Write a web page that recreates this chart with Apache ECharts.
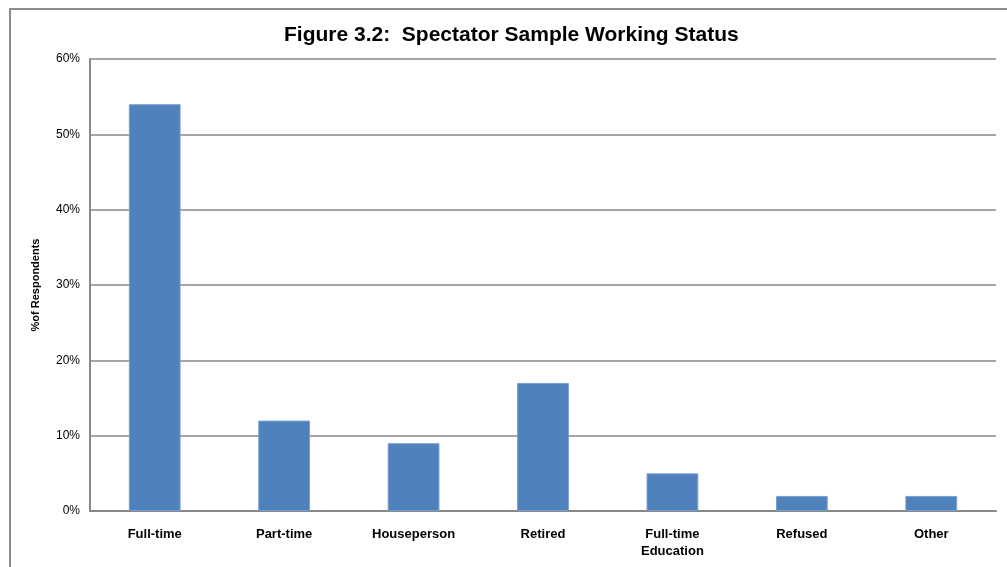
<!DOCTYPE html>
<html>
<head>
<meta charset="utf-8">
<script src="https://cdn.jsdelivr.net/npm/echarts@6/dist/echarts.min.js"></script>
<style>
html,body{margin:0;padding:0;background:#fff;}
#chart{width:1007px;height:567px;}
</style>
</head>
<body>
<div id="chart"></div>
<script>
const titleText = 'Figure 3.2:  Spectator Sample Working Status';
const categories = ['Full-time', 'Part-time', 'Houseperson', 'Retired', 'Full-time\nEducation', 'Refused', 'Other'];
const values = [54, 12, 9, 17, 5, 2, 2];
const yTicks = [0, 10, 20, 30, 40, 50, 60];
const yAxisTitle = '%of Respondents';

const chart = echarts.init(document.getElementById('chart'), null, {renderer: 'canvas'});
chart.setOption({
  animation: false,
  backgroundColor: '#ffffff',
  title: {
    text: titleText,
    left: 279,
    top: 20,
    textStyle: {fontFamily: 'Liberation Sans', fontWeight: 'bold', fontSize: 21, color: '#000', letterSpacing: -0.2}
  },
  graphic: [{
    type: 'rect',
    shape: {x: 10, y: 9, width: 1010, height: 580},
    style: {fill: 'none', stroke: '#8c8c8c', lineWidth: 2},
    silent: true
  }],
  grid: {left: 90, right: 11, top: 59, bottom: 56, containLabel: false},
  xAxis: {
    type: 'category',
    data: categories,
    axisLine: {show: true, lineStyle: {color: '#888', width: 2}},
    axisTick: {show: false},
    axisLabel: {
      interval: 0,
      margin: 15,
      fontFamily: 'Liberation Sans',
      fontWeight: 'bold',
      fontSize: 13,
      color: '#000',
      lineHeight: 17
    }
  },
  yAxis: {
    type: 'value',
    min: yTicks[0],
    max: yTicks[yTicks.length - 1],
    interval: 10,
    name: yAxisTitle,
    nameLocation: 'middle',
    nameGap: 49,
    nameRotate: 90,
    nameTextStyle: {fontFamily: 'Liberation Sans', fontWeight: 'bold', fontSize: 11, color: '#000', letterSpacing: -0.5},
    axisLine: {show: true, lineStyle: {color: '#888', width: 2}},
    axisTick: {show: false},
    splitLine: {show: true, lineStyle: {color: '#888', width: 1.5}},
    axisLabel: {
      margin: 10,
      fontFamily: 'Liberation Sans',
      fontSize: 12,
      color: '#000',
      formatter: v => v + '%'
    }
  },
  series: [{
    type: 'bar',
    data: values,
    barWidth: '40%',
    itemStyle: {color: '#4F81BD', borderColor: '#7a9fd0', borderWidth: 1}
  }]
});
</script>
</body>
</html>
